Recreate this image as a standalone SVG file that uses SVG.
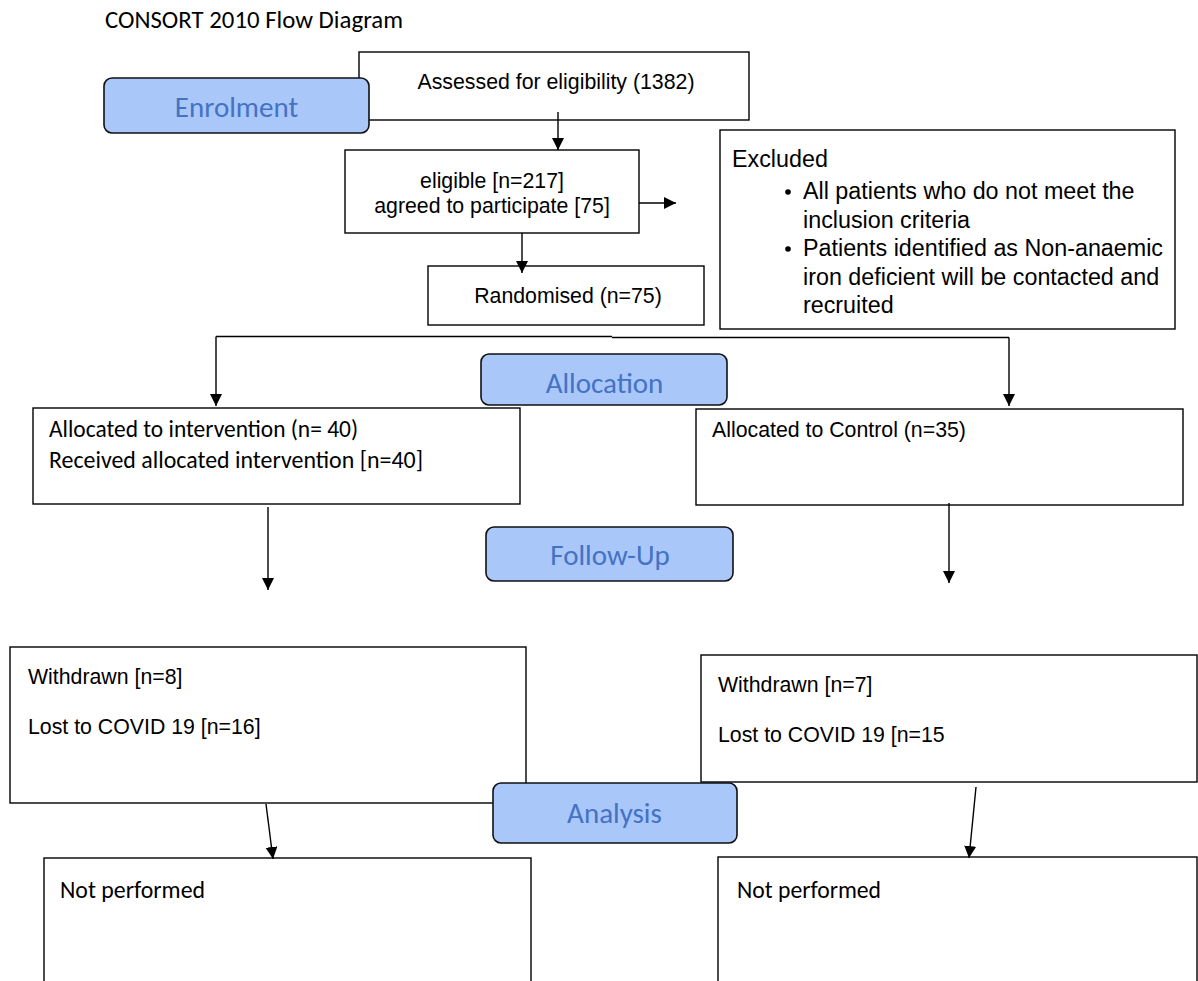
<svg xmlns="http://www.w3.org/2000/svg" width="1198" height="981" viewBox="0 0 1198 981">
  <defs>
    <marker id="arrow" markerUnits="userSpaceOnUse" markerWidth="12" markerHeight="13" refX="12" refY="6" orient="auto">
      <path d="M0,0 L12,6 L0,12 Z" fill="#000"/>
    </marker>
    <style>
      .box { fill: #fff; stroke: #000; stroke-width: 1.4; }
      .stage { fill: #a9c7f8; stroke: #111; stroke-width: 1.6; }
      .stage-text { font-family: Carlito, Calibri, Lato, sans-serif; font-size: 29px; fill: #4472c4; text-anchor: middle; }
      .arial { font-family: 'Liberation Sans', Arial, sans-serif; font-size: 21.3px; fill: #000; }
      .arial-lg { font-family: 'Liberation Sans', Arial, sans-serif; font-size: 23.3px; fill: #000; }
      .calibri { font-family: Carlito, Calibri, Lato, sans-serif; font-size: 23.5px; fill: #000; }
      .mid { text-anchor: middle; }
      .link { fill: none; stroke: #000; stroke-width: 1.4; }
      .arrowed { marker-end: url(#arrow); }
    </style>
  </defs>
  <rect width="1198" height="981" fill="#fff"/>

  <text id="title" class="calibri" x="105" y="28" textLength="298" lengthAdjust="spacingAndGlyphs">CONSORT 2010 Flow Diagram</text>

  <!-- process boxes -->
  <g id="assessed">
    <rect class="box" x="359" y="52" width="390" height="68"/>
    <text class="arial mid" x="556" y="89">Assessed for eligibility (1382)</text>
  </g>
  <g id="eligible">
    <rect class="box" x="345" y="150" width="294" height="83"/>
    <text class="arial mid" x="492" y="188">eligible [n=217]</text>
    <text class="arial mid" x="492" y="213">agreed to participate [75]</text>
  </g>
  <g id="excluded">
    <rect class="box" x="720" y="130" width="455" height="199"/>
    <text class="arial-lg" x="732" y="167">Excluded</text>
    <circle cx="788" cy="192" r="2.8" fill="#000"/>
    <text class="arial-lg" x="803" y="199">All patients who do not meet the</text>
    <text class="arial-lg" x="803" y="227.5">inclusion criteria</text>
    <circle cx="788" cy="249" r="2.8" fill="#000"/>
    <text class="arial-lg" x="803" y="256">Patients identified as Non-anaemic</text>
    <text class="arial-lg" x="803" y="284.5">iron deficient will be contacted and</text>
    <text class="arial-lg" x="803" y="313">recruited</text>
  </g>
  <g id="randomised">
    <rect class="box" x="428" y="266" width="276" height="59"/>
    <text class="arial mid" x="568" y="303">Randomised (n=75)</text>
  </g>
  <g id="intervention">
    <rect class="box" x="33" y="408" width="487" height="96"/>
    <text class="calibri" x="49" y="437" textLength="309" lengthAdjust="spacingAndGlyphs">Allocated to intervention (n= 40)</text>
    <text class="calibri" x="49" y="468" textLength="374" lengthAdjust="spacingAndGlyphs">Received allocated intervention [n=40]</text>
  </g>
  <g id="control">
    <rect class="box" x="696" y="409" width="487" height="96"/>
    <text class="arial" x="712" y="437">Allocated to Control (n=35)</text>
  </g>
  <g id="withdrawn-intervention">
    <rect class="box" x="10" y="647" width="516" height="156"/>
    <text class="arial" x="28" y="684">Withdrawn [n=8]</text>
    <text class="arial" x="28" y="734">Lost to COVID 19 [n=16]</text>
  </g>
  <g id="withdrawn-control">
    <rect class="box" x="701" y="655" width="496" height="127"/>
    <text class="arial" x="718" y="692">Withdrawn [n=7]</text>
    <text class="arial" x="718" y="742">Lost to COVID 19 [n=15</text>
  </g>
  <g id="analysis-intervention">
    <rect class="box" x="44" y="858" width="487" height="140"/>
    <text class="calibri" x="60" y="898" textLength="145" lengthAdjust="spacingAndGlyphs">Not performed</text>
  </g>
  <g id="analysis-control">
    <rect class="box" x="718" y="857" width="479" height="140"/>
    <text class="calibri" x="737" y="898" textLength="144" lengthAdjust="spacingAndGlyphs">Not performed</text>
  </g>

  <!-- connectors -->
  <g id="connectors">
    <path class="link arrowed" d="M558,112 L558,150"/>
    <path class="link arrowed" d="M639,203 L676,203"/>
    <path class="link arrowed" d="M522,233 L522,273"/>
    <path class="link" d="M216,336.5 L612,336.5"/>
    <path class="link" d="M612,337.5 L1009,337.5"/>
    <path class="link arrowed" d="M216,336.5 L216,406"/>
    <path class="link arrowed" d="M1009,337.5 L1009,406"/>
    <path class="link arrowed" d="M268,507 L268,590"/>
    <path class="link arrowed" d="M949,503 L949,583"/>
    <path class="link arrowed" d="M266,804 L273,859"/>
    <path class="link arrowed" d="M976,787 L969,858"/>
  </g>

  <!-- stage labels -->
  <g id="stage-enrolment">
    <rect class="stage" x="104" y="78" width="265" height="55" rx="8"/>
    <text class="stage-text" x="236.5" y="117">Enrolment</text>
  </g>
  <g id="stage-allocation">
    <rect class="stage" x="481" y="354" width="246" height="51" rx="8"/>
    <text class="stage-text" x="604.5" y="393">Allocation</text>
  </g>
  <g id="stage-follow-up">
    <rect class="stage" x="486" y="527" width="247" height="54" rx="8"/>
    <text class="stage-text" x="610" y="565">Follow-Up</text>
  </g>
  <g id="stage-analysis">
    <rect class="stage" x="493" y="783" width="244" height="60" rx="8"/>
    <text class="stage-text" x="614.5" y="823">Analysis</text>
  </g>
</svg>
